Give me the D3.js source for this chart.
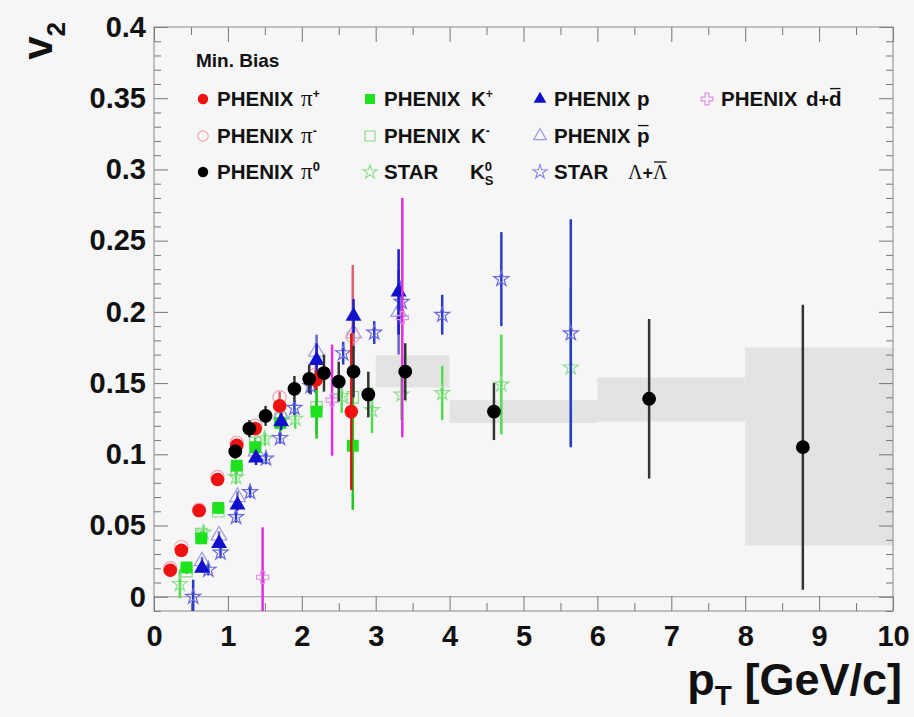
<!DOCTYPE html>
<html>
<head>
<meta charset="utf-8">
<script src="https://cdn.jsdelivr.net/npm/d3@7"></script>
<style>
  body { margin: 0; background: #f6f6f6; }
  svg text { font-family: "Liberation Sans", Arial, sans-serif; font-weight: bold; fill: #111; }
</style>
</head>
<body>
<div id="my_dataviz"></div>
<script>
// ---- data: [pT, v2, stat error] ----
const phenixPiPlus = [[0.22, 0.0186, 0.002], [0.37, 0.0326, 0.002], [0.61, 0.0605, 0.002], [0.86, 0.0823, 0.002],
  [1.12, 0.1064, 0.003], [1.37, 0.118, 0.003], [1.70, 0.134, 0.004], [2.19, 0.152, 0.007], [2.67, 0.130, 0.055]]
const phenixPiMinus = [[0.22, 0.020, 0.002], [0.37, 0.035, 0.002], [0.61, 0.061, 0.002], [0.86, 0.084, 0.002],
  [1.12, 0.108, 0.003], [1.37, 0.120, 0.003], [1.70, 0.140, 0.004], [2.19, 0.156, 0.007], [2.69, 0.183, 0.05]]
const phenixPi0 = [[1.10, 0.102, 0.005], [1.29, 0.118, 0.006], [1.51, 0.127, 0.007], [1.90, 0.146, 0.009],
  [2.10, 0.153, 0.01], [2.30, 0.157, 0.013], [2.50, 0.151, 0.014], [2.70, 0.158, 0.018], [2.90, 0.142, 0.016],
  [3.40, 0.158, 0.02], [4.60, 0.130, 0.02], [6.70, 0.139, 0.056], [8.78, 0.105, 0.1]]
const phenixKPlus = [[0.44, 0.0206, 0.002], [0.64, 0.041, 0.002], [0.87, 0.0624, 0.002], [1.12, 0.092, 0.003],
  [1.37, 0.105, 0.004], [1.71, 0.122, 0.006], [2.20, 0.130, 0.019], [2.69, 0.106, 0.045]]
const phenixKMinus = [[0.44, 0.018, 0.002], [0.64, 0.044, 0.002], [0.87, 0.060, 0.002], [1.12, 0.089, 0.003],
  [1.37, 0.108, 0.004], [1.71, 0.125, 0.006], [2.20, 0.133, 0.019], [2.69, 0.140, 0.05]]
const phenixP = [[0.65, 0.020, 0.003], [0.88, 0.0375, 0.003], [1.13, 0.0645, 0.004], [1.38, 0.0975, 0.005],
  [1.72, 0.123, 0.006], [2.20, 0.166, 0.012], [2.70, 0.197, 0.012], [3.31, 0.214, 0.03]]
const phenixPbar = [[0.65, 0.025, 0.003], [0.88, 0.043, 0.003], [1.13, 0.070, 0.004], [1.38, 0.102, 0.005],
  [1.72, 0.128, 0.006], [2.20, 0.172, 0.012], [2.70, 0.185, 0.012], [3.31, 0.200, 0.03]]
const phenixD = [[1.47, 0.0137, 0.035], [2.41, 0.138, 0.039], [3.36, 0.196, 0.084]]
const starK0s = [[0.35, 0.009, 0.01], [0.67, 0.045, 0.005], [1.11, 0.084, 0.005], [1.50, 0.111, 0.005],
  [1.91, 0.125, 0.007], [2.54, 0.141, 0.012], [2.95, 0.131, 0.016], [3.35, 0.142, 0.018], [3.90, 0.143, 0.019],
  [4.70, 0.149, 0.035], [5.64, 0.161, 0.056]]
const starLambda = [[0.53, 0.000, 0.012], [0.735, 0.019, 0.004], [0.90, 0.031, 0.004], [1.11, 0.056, 0.004],
  [1.30, 0.0735, 0.004], [1.515, 0.097, 0.004], [1.705, 0.1115, 0.004], [1.90, 0.1327, 0.005], [2.12, 0.148, 0.006],
  [2.56, 0.171, 0.008], [2.98, 0.1855, 0.008], [3.35, 0.207, 0.015], [3.90, 0.198, 0.014], [4.70, 0.223, 0.033],
  [5.64, 0.185, 0.08]]
// pi0 systematic bands: [pT lo, pT hi, v2 lo, v2 hi]
const pi0SysBoxes = [[3, 4, 0.147, 0.1695], [4, 6, 0.122, 0.138], [6, 8, 0.123, 0.154], [8, 10, 0.036, 0.175]]

const pTTicks = [0, 1, 2, 3, 4, 5, 6, 7, 8, 9, 10]
const v2Ticks = [0, 0.05, 0.1, 0.15, 0.2, 0.25, 0.3, 0.35, 0.4]

const width = 914, height = 717
const margin = { top: 27, right: 21, bottom: 106, left: 154 }

const svg = d3.select("#my_dataviz")
  .append("svg")
  .attr("width", width)
  .attr("height", height)

svg.append("rect").attr("width", width).attr("height", height).attr("fill", "#f6f6f6")

const x = d3.scaleLinear().domain([0, 10]).range([margin.left, width - margin.right])
const y = d3.scaleLinear().domain([-0.01, 0.4]).range([height - margin.bottom, margin.top])

svg.append("clipPath").attr("id", "frameclip")
  .append("rect")
  .attr("x", x(0)).attr("y", y(0.4))
  .attr("width", x(10) - x(0)).attr("height", y(-0.01) - y(0.4))

// systematic boxes
svg.append("g").selectAll("rect")
  .data(pi0SysBoxes)
  .join("rect")
  .attr("x", d => x(d[0]))
  .attr("y", d => y(d[3]))
  .attr("width", d => x(d[1]) - x(d[0]))
  .attr("height", d => y(d[2]) - y(d[3]))
  .attr("fill", "#e3e3e3")

// zero line
svg.append("line")
  .attr("x1", x(0)).attr("x2", x(10))
  .attr("y1", y(0)).attr("y2", y(0))
  .attr("stroke", "#999").attr("stroke-width", 1)

// axes, ROOT style ticks pointing inwards
const fmtV2 = d => d === 0 ? "0" : String(+d.toFixed(2))
const minorX = d3.range(0.5, 10, 1)
const minorY = d3.range(-0.01, 0.4001, 0.01).filter(v => Math.abs(Math.round(v * 20) - v * 20) > 1e-6)

function styleAxis(g) {
  g.select(".domain").remove()
  g.selectAll(".tick line").attr("stroke", "#777").attr("stroke-width", 1)
}

svg.append("g")
  .attr("transform", `translate(0,${y(-0.01)})`)
  .call(d3.axisBottom(x).tickValues(pTTicks).tickSize(-15).tickPadding(10).tickFormat(d3.format("d")))
  .call(styleAxis)
  .selectAll("text").style("font-size", "29px").attr("dy", "0.85em").attr("fill", "#111")
svg.append("g")
  .attr("transform", `translate(0,${y(-0.01)})`)
  .call(d3.axisBottom(x).tickValues(minorX).tickSize(-8).tickFormat(""))
  .call(styleAxis)
svg.append("g")
  .attr("transform", `translate(0,${y(0.4)})`)
  .call(d3.axisTop(x).tickValues(pTTicks).tickSize(-15).tickFormat(""))
  .call(styleAxis)
svg.append("g")
  .attr("transform", `translate(0,${y(0.4)})`)
  .call(d3.axisTop(x).tickValues(minorX).tickSize(-8).tickFormat(""))
  .call(styleAxis)

svg.append("g")
  .attr("transform", `translate(${x(0)},0)`)
  .call(d3.axisLeft(y).tickValues(v2Ticks).tickSize(-14).tickPadding(8).tickFormat(fmtV2))
  .call(styleAxis)
  .selectAll("text").style("font-size", "29px").attr("fill", "#111")
svg.append("g")
  .attr("transform", `translate(${x(0)},0)`)
  .call(d3.axisLeft(y).tickValues(minorY).tickSize(-7).tickFormat(""))
  .call(styleAxis)
svg.append("g")
  .attr("transform", `translate(${x(10)},0)`)
  .call(d3.axisRight(y).tickValues(v2Ticks).tickSize(-14).tickFormat(""))
  .call(styleAxis)
svg.append("g")
  .attr("transform", `translate(${x(10)},0)`)
  .call(d3.axisRight(y).tickValues(minorY).tickSize(-7).tickFormat(""))
  .call(styleAxis)

// frame
svg.append("rect")
  .attr("x", x(0)).attr("y", y(0.4))
  .attr("width", x(10) - x(0)).attr("height", y(-0.01) - y(0.4))
  .attr("fill", "none").attr("stroke", "#888").attr("stroke-width", 1)

// series definitions
const series = [
  { data: starK0s, shape: d3.symbolStar, size: 70, fill: "none", stroke: "#8fe08f", bar: "#4ede4e" },
  { data: phenixKMinus, shape: d3.symbolSquare, size: 130, fill: "none", stroke: "#8ad88a", bar: "#55cc55" },
  { data: phenixPbar, shape: d3.symbolTriangle, size: 105, fill: "none", stroke: "#9a9ae0", bar: "#6666cc" },
  { data: phenixPiMinus, shape: d3.symbolCircle, size: 140, fill: "none", stroke: "#f2a4b0", bar: "#e06070" },
  { data: starLambda, shape: d3.symbolStar, size: 70, fill: "none", stroke: "#6a6ae0", bar: "#2b3acb" },
  { data: phenixKPlus, shape: d3.symbolSquare, size: 140, fill: "#1de21d", stroke: "none", bar: "#22c822" },
  { data: phenixP, shape: d3.symbolTriangle, size: 110, fill: "#1111cc", stroke: "none", bar: "#1a1acc" },
  { data: phenixPiPlus, shape: d3.symbolCircle, size: 145, fill: "#ee1111", stroke: "none", bar: "#dd1111" },
  { data: phenixD, shape: d3.symbolCross, size: 80, fill: "none", stroke: "#e090e0", bar: "#dd30dd" },
  { data: phenixPi0, shape: d3.symbolCircle, size: 150, fill: "#000", stroke: "none", bar: "#333" },
]

const plot = svg.append("g").attr("clip-path", "url(#frameclip)")

series.forEach(s => {
  const g = plot.append("g")
  g.selectAll("line")
    .data(s.data)
    .join("line")
    .attr("x1", d => x(d[0])).attr("x2", d => x(d[0]))
    .attr("y1", d => y(d[1] - d[2])).attr("y2", d => y(d[1] + d[2]))
    .attr("stroke", s.bar).attr("stroke-width", 2.5)
  g.selectAll("path")
    .data(s.data)
    .join("path")
    .attr("transform", d => `translate(${x(d[0])},${y(d[1])})`)
    .attr("d", d3.symbol().type(s.shape).size(s.size))
    .attr("fill", s.fill)
    .attr("stroke", s.stroke)
    .attr("stroke-width", 1.2)
})

// ---- rich text helper (superscripts, subscripts, overlines) ----
function richText(g, x0, y0, pieces) {
  let cx = x0
  pieces.forEach(p => {
    const size = p.size || 20.5
    const t = g.append("text")
      .attr("x", cx + (p.dx || 0))
      .attr("y", y0 + (p.dy || 0))
      .style("font-size", size + "px")
      .style("font-family", p.serif ? "'Liberation Serif', 'DejaVu Serif', serif" : null)
      .style("font-weight", p.serif ? "normal" : null)
      .text(p.t)
    const w = t.node().getComputedTextLength()
    if (p.over) {
      g.append("line")
        .attr("x1", cx + (p.dx || 0) + 1).attr("x2", cx + (p.dx || 0) + w - 1)
        .attr("y1", y0 + (p.dy || 0) - size * 0.85).attr("y2", y0 + (p.dy || 0) - size * 0.85)
        .attr("stroke", "#111").attr("stroke-width", 1.3)
    }
    if (!p.stack) cx += w + (p.dx || 0)
  })
}

// ---- legend ----
const legend = svg.append("g")
legend.append("text").attr("x", 196).attr("y", 67).style("font-size", "19px").text("Min. Bias")

const rowY = [99, 136, 172]
const legendEntries = [
  { mx: 203, row: 0, shape: d3.symbolCircle, size: 85, fill: "#ee1111", stroke: "none",
    label: [{ t: "PHENIX" }], px: 301, part: [{ t: "π", size: 23, serif: true }, { t: "+", size: 12, dy: -8 }] },
  { mx: 203, row: 1, shape: d3.symbolCircle, size: 85, fill: "none", stroke: "#f2a4b0",
    label: [{ t: "PHENIX" }], px: 301, part: [{ t: "π", size: 23, serif: true }, { t: "-", size: 12, dy: -8 }] },
  { mx: 203, row: 2, shape: d3.symbolCircle, size: 85, fill: "#000", stroke: "none",
    label: [{ t: "PHENIX" }], px: 301, part: [{ t: "π", size: 23, serif: true }, { t: "0", size: 13, dy: -8 }] },
  { mx: 370, row: 0, shape: d3.symbolSquare, size: 100, fill: "#1de21d", stroke: "none",
    label: [{ t: "PHENIX" }], px: 471, part: [{ t: "K" }, { t: "+", size: 12, dy: -8 }] },
  { mx: 370, row: 1, shape: d3.symbolSquare, size: 100, fill: "none", stroke: "#8ad88a",
    label: [{ t: "PHENIX" }], px: 471, part: [{ t: "K" }, { t: "-", size: 12, dy: -8 }] },
  { mx: 370, row: 2, shape: d3.symbolStar, size: 60, fill: "none", stroke: "#8fe08f",
    label: [{ t: "STAR" }], px: 470, part: [{ t: "K" }, { t: "0", size: 13, dy: -8, stack: true }, { t: "S", size: 13, dy: 6 }] },
  { mx: 540, row: 0, shape: d3.symbolTriangle, size: 70, fill: "#1111cc", stroke: "none",
    label: [{ t: "PHENIX" }], px: 637, part: [{ t: "p" }] },
  { mx: 540, row: 1, shape: d3.symbolTriangle, size: 70, fill: "none", stroke: "#9a9ae0",
    label: [{ t: "PHENIX" }], px: 637, part: [{ t: "p", over: true }] },
  { mx: 540, row: 2, shape: d3.symbolStar, size: 60, fill: "none", stroke: "#8a8ae6",
    label: [{ t: "STAR" }], px: 628, part: [{ t: "Λ", size: 20, serif: true }, { t: "+", size: 18 }, { t: "Λ", size: 20, serif: true, over: true }] },
  { mx: 707, row: 0, shape: d3.symbolCross, size: 75, fill: "none", stroke: "#e090e0",
    label: [{ t: "PHENIX" }], px: 806, part: [{ t: "d" }, { t: "+", size: 18 }, { t: "d", over: true }] },
]

legendEntries.forEach(e => {
  const cy = rowY[e.row]
  legend.append("path")
    .attr("transform", `translate(${e.mx},${cy})`)
    .attr("d", d3.symbol().type(e.shape).size(e.size))
    .attr("fill", e.fill).attr("stroke", e.stroke).attr("stroke-width", 1.2)
  richText(legend, e.mx + 14, cy + 7, e.label)
  richText(legend, e.px, cy + 7, e.part)
})

// ---- axis titles ----
const xt = svg.append("text")
  .attr("x", 902).attr("y", 695)
  .attr("text-anchor", "end")
  .style("font-size", "45px")
xt.append("tspan").text("p")
xt.append("tspan").attr("dy", 10).style("font-size", "28px").text("T")
xt.append("tspan").attr("dy", -10).text(" [GeV/c]")

const yt = svg.append("text")
  .attr("transform", "translate(52,22) rotate(-90)")
  .attr("text-anchor", "end")
  .style("font-size", "42px")
yt.append("tspan").text("v")
yt.append("tspan").attr("dy", 13).style("font-size", "26px").text("2")
</script>
</body>
</html>
